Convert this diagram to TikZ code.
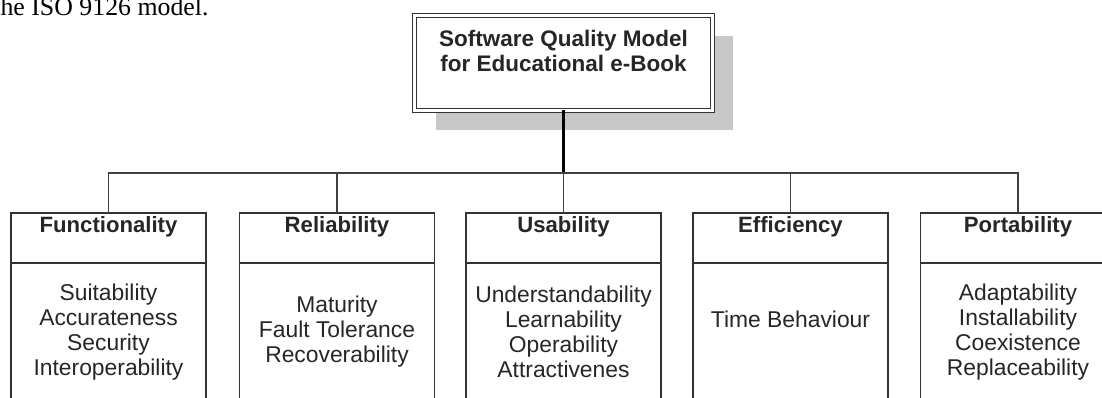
\documentclass[tikz,border=0pt]{standalone}
\usepackage{fontspec}
\setmainfont{Liberation Sans}
\newfontfamily\introfont{Liberation Serif}
\usetikzlibrary{positioning, shadows}

\tikzset{
  rootbox/.style={draw=black!80, line width=0.7pt, double, double distance=1.6pt,
    fill=white, minimum width=5.96cm, minimum height=1.89cm, align=center,
    text=black!85, font=\bfseries\fontsize{12.8}{14.2}\selectfont, outer sep=0pt,
    drop shadow={shadow xshift=0.42cm, shadow yshift=-0.4cm, fill=black!22, opacity=1}},
  headbox/.style={draw=black!80, line width=0.8pt, minimum width=3.9cm,
    minimum height=1cm, inner ysep=0pt, text height=9pt, text depth=14.7pt,
    text=black!85, font=\bfseries\fontsize{12.6}{14.2}\selectfont, outer sep=0pt},
  bodybox/.style={draw=black!80, line width=0.8pt, minimum width=3.9cm,
    minimum height=2.76cm, align=center, text=black!85,
    font=\fontsize{13}{14.2}\selectfont, outer sep=0pt},
  link/.style={draw=black!75, line width=0.9pt},
  stem/.style={draw=black, line width=1.3pt}
}

\begin{document}
\begin{tikzpicture}[x=0.02cm, y=-0.02cm]
    \useasboundingbox (0,0) rectangle (1102,398);

    % Cut-off text line above the figure
    \node[anchor=base west, inner sep=0pt, text=black, font=\introfont\fontsize{14.7}{17}\selectfont] (intro) at (-7,16) {the ISO 9126 model.};

    % Root of the model
    \node[rootbox] (root) at (563.5,63) {Software Quality Model\\for Educational e-Book\\\mbox{}};
    \coordinate (bus) at (0,173);
    \draw[stem] (root.south) -- (root.south |- bus);

    % Characteristics and their sub-characteristics
    \foreach \nm/\x/\head/\body in {
        func/108.5/Functionality/Suitability\\Accurateness\\Security\\Interoperability,
        reli/337/Reliability/Maturity\\Fault Tolerance\\Recoverability,
        usab/563.5/Usability/Understandability\\Learnability\\Operability\\Attractivenes,
        effi/790.5/Efficiency/Time Behaviour\\\mbox{},
        port/1018/Portability/Adaptability\\Installability\\Coexistence\\Replaceability}
    {
        \node[headbox] (\nm) at (\x,238) {\head};
        \node[bodybox, below=0pt of \nm] (\nm-body) {\body};
        \draw[link] (root.south |- bus) -| (\nm.north);
    }
\end{tikzpicture}
\end{document}
